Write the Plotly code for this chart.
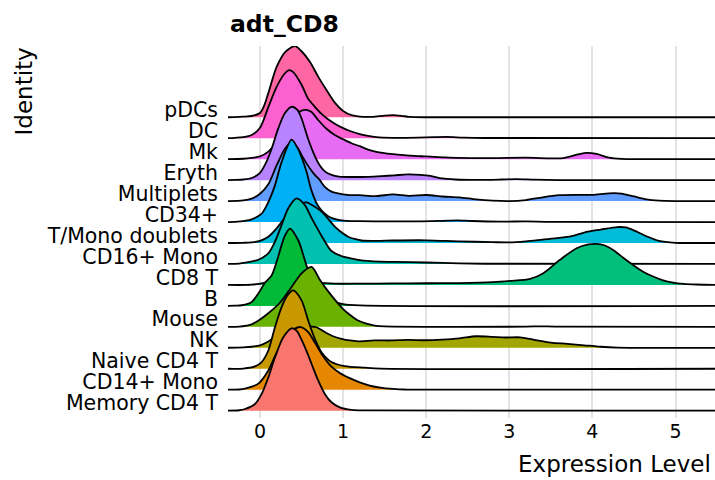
import plotly.graph_objects as go

# Categories, bottom to top (ggplot factor order)
categories = ["Memory CD4 T", "CD14+ Mono", "Naive CD4 T", "NK", "Mouse", "B", "CD8 T",
              "CD16+ Mono", "T/Mono doublets", "CD34+", "Multiplets", "Eryth", "Mk", "DC", "pDCs"]
colors = ["#F8766D", "#E58700", "#C99800", "#A3A500", "#6BB100", "#00BA38", "#00BF7D",
          "#00C0AF", "#00BCD8", "#00B0F6", "#619CFF", "#B983FF", "#E76BF3", "#FD61D1", "#FF67A4"]

# Density ridges: expression level (x) and height in row units (h)
x_memory = [-0.4, -0.25, -0.18, -0.06, 0.02, 0.10, 0.18, 0.28, 0.38, 0.44, 0.54, 0.62, 0.70, 0.78, 0.86, 0.96, 1.10, 1.3, 5.5]
h_memory = [0, 0.02, 0.08, 0.32, 0.8, 1.59, 2.54, 3.5, 3.93, 3.82, 3.03, 2.24, 1.44, 0.8, 0.4, 0.16, 0.04, 0.01, 0]

x_cd14 = [-0.4, -0.25, -0.18, -0.02, 0.10, 0.18, 0.28, 0.38, 0.49, 0.58, 0.66, 0.76, 0.86, 0.96, 1.08, 1.2, 1.32, 1.45, 1.6, 1.75, 5.5]
h_cd14 = [0, 0.01, 0.05, 0.29, 0.92, 1.6, 2.3, 2.8, 2.99, 2.75, 2.25, 1.6, 1.1, 0.8, 0.55, 0.35, 0.2, 0.1, 0.04, 0.01, 0]

x_naive = [-0.4, -0.2, -0.06, 0.02, 0.10, 0.18, 0.26, 0.33, 0.40, 0.50, 0.58, 0.66, 0.74, 0.86, 1.02, 1.26, 1.45, 5.5]
h_naive = [0, 0.01, 0.11, 0.32, 0.87, 1.98, 2.94, 3.5, 3.74, 3.26, 2.3, 1.43, 0.79, 0.32, 0.12, 0.05, 0.01, 0]

x_nk = [-0.4, -0.2, -0.1, 0.0, 0.1, 0.2, 0.3, 0.4, 0.5, 0.6, 0.68, 0.78, 0.88, 0.98, 1.08, 1.18, 1.38, 1.58, 1.78,
        1.99, 2.19, 2.4, 2.6, 2.8, 2.95, 3.13, 3.3, 3.5, 3.7, 3.9, 4.1, 4.3, 5.5]
h_nk = [0, 0.02, 0.05, 0.12, 0.3, 0.6, 0.85, 1.0, 1.05, 1.02, 0.98, 0.75, 0.55, 0.43, 0.35, 0.31, 0.35, 0.35, 0.38,
        0.36, 0.39, 0.45, 0.55, 0.52, 0.49, 0.5, 0.38, 0.25, 0.19, 0.12, 0.05, 0.01, 0]

x_mouse = [-0.4, -0.25, -0.16, -0.1, 0.0, 0.1, 0.24, 0.38, 0.5, 0.62, 0.72, 0.8, 0.9, 1.0, 1.08, 1.18, 1.28, 1.38, 1.5,
           3.2, 3.37, 3.55, 5.5]
h_mouse = [0, 0.01, 0.06, 0.12, 0.35, 0.65, 1.15, 1.9, 2.55, 2.86, 2.25, 1.8, 1.3, 0.85, 0.58, 0.3, 0.15, 0.06, 0.02,
           0.01, 0.025, 0.01, 0]

x_b = [-0.4, -0.3, -0.22, -0.1, -0.02, 0.06, 0.14, 0.2, 0.26, 0.3, 0.36, 0.46, 0.54, 0.60, 0.7, 0.8, 0.9, 1.0, 1.2, 5.5]
h_b = [0, 0.01, 0.03, 0.19, 0.59, 1.1, 1.45, 2.1, 2.9, 3.35, 3.69, 3.13, 2.18, 1.46, 0.8, 0.4, 0.18, 0.08, 0.02, 0]

x_cd8 = [-0.4, -0.1, 0.05, 0.2, 0.35, 0.5, 0.7, 0.9, 1.2, 1.6, 2.0, 2.4, 2.8, 3.01, 3.25, 3.41, 3.61, 3.81, 3.95,
         4.05, 4.15, 4.25, 4.37, 4.49, 4.61, 4.73, 4.85, 4.97, 5.1, 5.25, 5.5]
h_cd8 = [0, 0.01, 0.1, 0.25, 0.35, 0.3, 0.12, 0.06, 0.06, 0.07, 0.08, 0.09, 0.13, 0.19, 0.29, 0.56, 1.2, 1.75, 1.93,
         1.96, 1.88, 1.67, 1.3, 0.95, 0.63, 0.4, 0.22, 0.11, 0.05, 0.02, 0]

x_cd16 = [-0.4, -0.25, -0.18, -0.02, 0.10, 0.18, 0.26, 0.34, 0.44, 0.54, 0.62, 0.74, 0.86, 1.0, 1.08, 1.2, 1.44, 1.6,
          2.0, 2.4, 2.7, 5.5]
h_cd16 = [0, 0.02, 0.06, 0.2, 0.51, 1.06, 1.86, 2.66, 3.13, 2.81, 2.2, 1.35, 0.62, 0.35, 0.28, 0.18, 0.11, 0.1,
          0.07, 0.03, 0.01, 0]

x_tmono = [-0.4, -0.2, -0.1, 0.0, 0.1, 0.2, 0.3, 0.4, 0.5, 0.56, 0.65, 0.74, 0.82, 0.9, 1.0, 1.06, 1.15, 1.22, 1.4,
           1.6, 2.0, 2.4, 2.8, 3.0, 3.2, 3.4, 3.6, 3.75, 3.9, 4.1, 4.3, 4.4, 4.5, 4.65, 4.8, 5.0, 5.2, 5.5]
h_tmono = [0, 0.01, 0.03, 0.1, 0.3, 0.7, 1.2, 1.6, 1.88, 1.94, 1.75, 1.5, 1.15, 0.78, 0.45, 0.3, 0.18, 0.12, 0.1,
           0.12, 0.13, 0.08, 0.04, 0.03, 0.08, 0.16, 0.24, 0.33, 0.5, 0.64, 0.76, 0.74, 0.6, 0.32, 0.1, 0.01, 0, 0]

x_cd34 = [-0.4, -0.3, -0.18, -0.10, 0.02, 0.10, 0.18, 0.26, 0.38, 0.45, 0.50, 0.56, 0.62, 0.70, 0.82, 0.98, 1.2, 1.5,
          1.9, 2.2, 2.37, 2.55, 2.9, 3.2, 3.5, 5.5]
h_cd34 = [0, 0.01, 0.06, 0.13, 0.4, 0.95, 1.75, 2.86, 3.93, 3.55, 3.1, 2.4, 1.5, 0.76, 0.28, 0.08, 0.04, 0.03,
          0.03, 0.06, 0.08, 0.05, 0.02, 0.03, 0.01, 0]

x_multi = [-0.4, -0.2, -0.1, 0.0, 0.1, 0.2, 0.3, 0.38, 0.45, 0.5, 0.56, 0.62, 0.66, 0.72, 0.78, 0.86, 0.94, 1.05, 1.2,
           1.4, 1.6, 1.8, 2.0, 2.2, 2.4, 2.6, 2.8, 3.0, 3.2, 3.4, 3.6, 3.8, 4.0, 4.2, 4.35, 4.5, 4.65, 4.8, 5.0, 5.5]
h_multi = [0, 0.03, 0.12, 0.35, 0.8, 1.7, 2.5, 2.8, 2.55, 2.2, 1.8, 1.45, 1.25, 1.0, 0.68, 0.45, 0.37, 0.3, 0.28,
           0.24, 0.32, 0.25, 0.29, 0.22, 0.18, 0.08, 0.02, 0.0, 0.05, 0.18, 0.28, 0.3, 0.3, 0.37, 0.36, 0.22, 0.08, 0.02, 0, 0]

x_eryth = [-0.4, -0.3, -0.2, -0.1, 0.0, 0.08, 0.14, 0.22, 0.30, 0.38, 0.45, 0.50, 0.58, 0.66, 0.72, 0.78, 0.86, 0.95,
           1.1, 1.3, 1.46, 1.62, 1.78, 1.93, 2.05, 2.19, 2.35, 2.6, 2.9, 3.09, 3.3, 3.6, 5.5]
h_eryth = [0, 0.01, 0.03, 0.1, 0.35, 0.9, 1.5, 2.47, 3.2, 3.5, 3.35, 2.94, 1.95, 1.15, 0.7, 0.42, 0.25, 0.17,
           0.15, 0.16, 0.19, 0.23, 0.27, 0.25, 0.2, 0.08, 0.03, 0.01, 0.03, 0.05, 0.02, 0, 0]

x_mk = [-0.4, -0.2, -0.1, 0.0, 0.1, 0.2, 0.3, 0.4, 0.5, 0.56, 0.62, 0.7, 0.8, 0.9, 1.0, 1.1, 1.2, 1.3, 1.4, 1.6, 1.8,
        2.0, 2.2, 2.4, 2.8, 3.2, 3.5, 3.65, 3.8, 3.92, 4.05, 4.2, 4.35, 4.6, 5.5]
h_mk = [0, 0.02, 0.06, 0.13, 0.36, 0.8, 1.4, 2.0, 2.32, 2.35, 2.25, 1.87, 1.45, 1.15, 0.95, 0.76, 0.62, 0.46, 0.35,
        0.24, 0.17, 0.13, 0.09, 0.06, 0.05, 0.07, 0.04, 0.05, 0.2, 0.3, 0.25, 0.07, 0.01, 0, 0]

x_dc = [-0.4, -0.3, -0.2, -0.1, 0.0, 0.1, 0.2, 0.3, 0.35, 0.4, 0.5, 0.58, 0.66, 0.74, 0.82, 0.9, 1.0, 1.1, 1.2, 1.3,
        1.4, 1.6, 1.9, 2.1, 2.25, 2.45, 2.7, 5.5]
h_dc = [0, 0.02, 0.05, 0.15, 0.5, 1.48, 2.45, 3.1, 3.25, 3.15, 2.55, 1.88, 1.5, 1.16, 0.9, 0.69, 0.48, 0.32, 0.2,
        0.11, 0.05, 0.02, 0.03, 0.05, 0.06, 0.03, 0.01, 0]

x_pdc = [-0.4, -0.3, -0.2, -0.1, 0.0, 0.05, 0.1, 0.2, 0.3, 0.42, 0.5, 0.6, 0.7, 0.8, 0.9, 1.0, 1.1, 1.2, 1.35, 1.5,
         1.6, 1.7, 1.8, 2.0, 5.5]
h_pdc = [0, 0.01, 0.03, 0.06, 0.2, 0.55, 1.15, 2.4, 3.1, 3.4, 3.15, 2.65, 1.94, 1.3, 0.7, 0.3, 0.1, 0.03, 0.02, 0.08,
         0.1, 0.07, 0.02, 0, 0]

ridge_x = [x_memory, x_cd14, x_naive, x_nk, x_mouse, x_b, x_cd8, x_cd16, x_tmono, x_cd34, x_multi, x_eryth, x_mk, x_dc, x_pdc]
ridge_h = [h_memory, h_cd14, h_naive, h_nk, h_mouse, h_b, h_cd8, h_cd16, h_tmono, h_cd34, h_multi, h_eryth, h_mk, h_dc, h_pdc]

x_ticks = [0, 1, 2, 3, 4, 5]

fig = go.Figure()
FONT = "DejaVu Sans"

# draw from top ridge to bottom so lower ridges overlay upper ones
for i in reversed(range(len(categories))):
    xs = ridge_x[i]
    ys = [i + h for h in ridge_h[i]]
    poly_x = list(xs) + list(reversed(xs))
    poly_y = ys + [i] * len(xs)
    fig.add_trace(go.Scatter(x=poly_x, y=poly_y, mode="lines", fill="toself",
                             fillcolor=colors[i], line=dict(width=0, color=colors[i], shape="spline", smoothing=0.8),
                             hoverinfo="skip", showlegend=False))
    fig.add_trace(go.Scatter(x=xs, y=ys, mode="lines",
                             line=dict(width=1.8, color="black", shape="spline", smoothing=0.8),
                             name=categories[i], showlegend=False))

fig.update_layout(
    width=715, height=480,
    margin=dict(l=228, r=0, t=46, b=62),
    paper_bgcolor="white", plot_bgcolor="white",
    font=dict(family=FONT, color="black"),
    xaxis=dict(range=[-0.385, 5.475], tickvals=x_ticks, ticktext=[str(t) for t in x_ticks],
               showgrid=True, gridcolor="#e3e3e3", gridwidth=1.5, zeroline=False, showline=False,
               ticks="", tickfont=dict(size=19, family=FONT, color="black")),
    yaxis=dict(range=[-0.35, 17.4], tickvals=[i + 0.36 for i in range(len(categories))], ticktext=categories,
               showgrid=False, zeroline=False, showline=False, ticks="", ticklabelstandoff=9,
               tickfont=dict(size=20.5, family=FONT, color="black")),
    annotations=[
        dict(text="<b>adt_CD8</b>", xref="paper", yref="paper", x=0, y=1, xanchor="left", yanchor="bottom",
             yshift=6, showarrow=False, font=dict(size=23.5, family=FONT, color="black")),
        dict(text="Expression Level", xref="paper", yref="paper", x=1, y=-0.1237, xanchor="right", yanchor="middle",
             xshift=-2, showarrow=False, font=dict(size=23, family=FONT, color="black")),
        dict(text="Identity", xref="paper", yref="paper", x=-0.418, y=0.879, xanchor="center", yanchor="middle",
             textangle=-90, showarrow=False, font=dict(size=23, family=FONT, color="black")),
    ],
)

fig.write_html("out.html")
